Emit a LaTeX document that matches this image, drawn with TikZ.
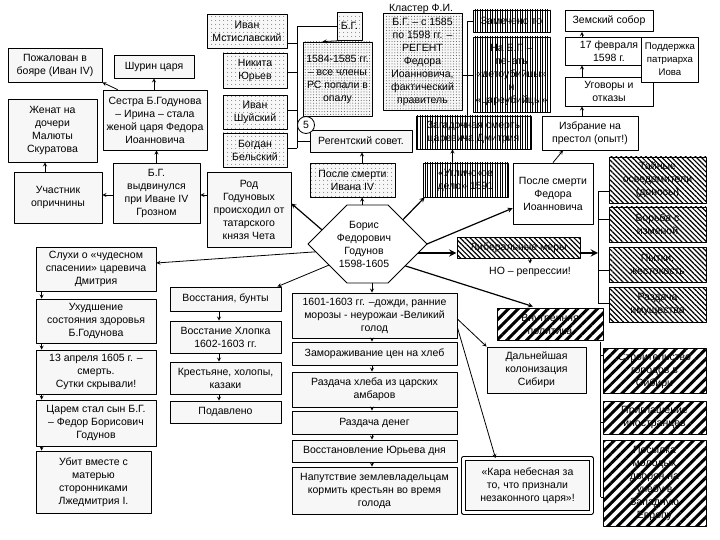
\documentclass[tikz,border=0pt]{standalone}
\usepackage{fontspec}
\setmainfont{Liberation Sans}
\usetikzlibrary{calc,patterns.meta}
\begin{document}
\begin{tikzpicture}[x=1pt,y=-1pt,>=stealth,line width=0.8pt,line join=round,
	font=\fontsize{10.5}{13}\selectfont,
	box/.style={draw,fill=gray!6,align=center,inner sep=1pt},
	sz/.style 2 args={minimum width=#1pt,minimum height=#2pt},
	wbox/.style={box,fill=white},
	dotbox/.style={box,preaction={fill=gray!6},pattern={Dots[distance=4pt,radius=0.5pt]},pattern color=black!70},
	ddotbox/.style={box,preaction={fill=gray!6},pattern={Dots[distance=2.8pt,radius=0.5pt]},pattern color=black!70},
	vbox/.style={box,preaction={fill=white},pattern={Lines[angle=90,distance=2.5pt,line width=1pt]}},
	fhbox/.style={box,preaction={fill=white},pattern={Lines[angle=-45,distance=3.5pt,line width=1.2pt]}},
	thbox/.style={box,preaction={fill=white},pattern={Lines[angle=45,distance=7pt,line width=3pt]}},
	con/.style={->},
	bcon/.style={->,line width=1.2pt}]
	\useasboundingbox (0,0) rectangle (720,540);
	% род и родство
	\node[box,sz={94}{34}] (pozh) at (55,65) {Пожалован в\\бояре (Иван IV)};
	\node[box,sz={80}{23}] (shurin) at (154,66.5) {Шурин царя};
	\node[box,sz={104}{60}] (sestra) at (155,120) {Сестра Б.Годунова\\– Ирина – стала\\женой царя Федора\\Иоанновича};
	\node[box,sz={89}{63}] (zhenat) at (52.5,130.5) {Женат на\\дочери\\Малюты\\Скуратова};
	\node[box,sz={88}{51}] (uchast) at (58,197.5) {Участник\\опричнины};
	\node[box,sz={87}{60}] (vydv) at (156.5,193) {Б.Г.\\выдвинулся\\при Иване IV\\Грозном};
	\node[box,sz={84}{75}] (rod) at (249,209.5) {Род\\Годуновых\\происходил от\\татарского\\князя Чета};
	\draw[con] ([xshift=15pt]sestra.north west) -- (pozh.south east);
	\draw[con] (shurin.south |- sestra.north) -- (shurin.south);
	\draw[con] (vydv.north) -- (vydv.north |- sestra.south);
	\draw[con] (vydv.west |- 0,195) -- (uchast.east |- 0,195);
	\draw[con] ([xshift=-13pt]uchast.north) -- ([xshift=-13pt]uchast.north |- zhenat.south);
	\draw[con] (rod.west |- 0,195) -- (vydv.east |- 0,195);
	% регентский совет
	\node[dotbox,sz={80}{34}] (mstisl) at (247,31) {Иван\\Мстиславский};
	\node[dotbox,sz={64}{35}] (yurev) at (255,70.5) {Никита\\Юрьев};
	\node[dotbox,sz={64}{34}] (shuisk) at (255,112) {Иван\\Шуйский};
	\node[dotbox,sz={64}{34}] (belsk) at (255,150) {Богдан\\Бельский};
	\node[dotbox,sz={25}{28}] (bg) at (349.5,26) {Б.Г.};
	\node[ddotbox,sz={69}{74}] (opala) at (337.5,79) {1584-1585 гг.\\– все члены\\РС попали в\\опалу};
	\node[box,sz={102}{22}] (regent) at (361,141) {Регентский совет.};
	\node[dotbox,sz={85}{34}] (posleI) at (352.5,180) {После смерти\\Ивана IV};
	\coordinate (sovT) at (297,26);
	\draw (bg.west) -- (sovT) -- (sovT |- 0,148);
	\foreach \n/\y in {mstisl/43,yurev/72,shuisk/110,belsk/148}
		\draw (sovT |- 0,\y) -- (\n.east |- 0,\y);
	\draw (sovT |- regent.west) -- (regent.west);
	\draw[con] ([xshift=-4pt]bg.south) -- ([xshift=-15pt]opala.north);
	\draw[con] ([xshift=9.5pt]posleI.north) -- ([xshift=9.5pt]posleI.north |- regent.south);
	\node[draw,circle,fill=white,minimum size=17pt,inner sep=0pt] (five) at (306,125) {5};
	% кластер Ф.И.
	\node (klast) at (421,9) {Кластер Ф.И.};
	\node[ddotbox,sz={79}{97}] (regbg) at (422.5,61.5) {Б.Г. – с 1585\\по 1598 гг. –\\РЕГЕНТ\\Федора\\Иоанновича,\\фактический\\правитель};
	\node[vbox,sz={77}{22}] (zapom) at (511.5,21) {Замечено то};
	\node[vbox,sz={77}{75}] (pechat) at (511.5,74.5) {На Б.Г. –\\печать\\«детоубийцы»\\и\\«цареубийцы»};
	\node[vbox,sz={115}{33}] (zagad) at (473.5,132.5) {Загадочная смерть\\царевича Дмитрия};
	\node[vbox,sz={85}{34}] (uglich) at (465.5,180) {«Угличское\\дело» 1591};
	\coordinate (klT) at (467,21);
	\draw (zapom.west) -- (klT) -- (klT |- zagad.north);
	\draw (regbg.east |- 0,75) -- (pechat.west |- 0,75);
	\draw[con] ([xshift=-13pt]uglich.north) -- ([xshift=-13pt]uglich.north |- zagad.south);
	% избрание
	\node[box,fill=white,sz={80}{61}] (posleF) at (553,193.5) {После смерти\\Федора\\Иоанновича};
	\node[wbox,sz={88}{21}] (zemsk) at (609,21) {Земский собор};
	\node[wbox,sz={88}{28}] (fevr) at (609,51) {17 февраля\\1598 г.};
	\node[wbox,sz={88}{29}] (ugov) at (609,91.5) {Уговоры и\\отказы};
	\node[wbox,sz={96}{34}] (izbr) at (590,133) {Избрание на\\престол (опыт!)};
	\node[wbox,sz={57}{45},font=\fontsize{9.6}{13}\selectfont] (iov) at (670,59.5) {Поддержка\\патриарха\\Иова};
	\coordinate (ax) at (582,0);
	\draw[con] (posleF.north) -- ([xshift=-27pt]izbr.south);
	\draw[con] (ax |- izbr.north) -- (ax |- ugov.south);
	\draw[con] (ax |- ugov.north) -- (ax |- fevr.south);
	\draw[con] (ax |- fevr.north) -- (ax |- zemsk.south);
	% Борис
	\coordinate (hw) at (308,244); \coordinate (hnw) at (347,205);
	\coordinate (hne) at (388,205); \coordinate (he) at (427,244);
	\coordinate (hse) at (388,283); \coordinate (hsw) at (347,283);
	\draw[fill=white] (hw) -- (hnw) -- (hne) -- (he) -- (hse) -- (hsw) -- cycle;
	\node[align=center] (boris) at (364,244) {Борис\\Федорович\\Годунов\\1598-1605};
	\coordinate (bRod) at ($(hw)!0.36!(hnw)$);
	\coordinate (bSl) at ($(hw)!0.2!(hsw)$);
	\coordinate (bVo) at ($(hw)!0.54!(hsw)$);
	\coordinate (bIv) at ($(hnw)!0.37!(hne)$);
	\coordinate (bUg) at ($(he)!0.62!(hne)$);
	\coordinate (bLib) at ($(he)!0.23!(hse)$);
	\coordinate (bVn) at ($(he)!0.56!(hse)$);
	\coordinate (bGo) at ($(hsw)!0.61!(hse)$);
	% голод
	\node[box,sz={165}{45}] (golod) at (374.5,315.5) {1601-1603 гг. –дожди, ранние\\морозы - неурожаи -Великий\\голод};
	\node[box,sz={165}{23}] (zamor) at (374.5,353.5) {Замораживание цен на хлеб};
	\node[box,sz={165}{35}] (razhleb) at (374.5,389.5) {Раздача хлеба из царских\\амбаров};
	\node[box,sz={165}{23}] (razden) at (374.5,422.5) {Раздача денег};
	\node[box,sz={165}{22}] (yur) at (374.5,451) {Восстановление Юрьева дня};
	\node[box,sz={165}{47}] (naput) at (374.5,490.5) {Напутствие землевладельцам\\кормить крестьян во время\\голода};
	\foreach \a/\b in {golod/zamor,zamor/razhleb,razhleb/razden,razden/yur,yur/naput}
		\draw[con] ([xshift=-2.5pt]\a.south) -- ([xshift=-2.5pt]\b.north);
	\node[box,sz={99}{46}] (kolon) at (536.5,370) {Дальнейшая\\колонизация\\Сибири};
	\node[box,double,double distance=2.5pt,sz={128}{54}] (kara) at (527.5,485.5) {«Кара небесная за\\то, что признали\\незаконного царя»!};
	\draw[con] ([yshift=-3.5pt]golod.east) -- (kolon.north west);
	\draw[con] ([yshift=-12pt]golod.east) -- ([xshift=-32pt]kara.north);
	% политика
	\node[fhbox,sz={123}{21}] (liber) at (518.5,247.5) {Либеральные меры};
	\node (no) at (530,272) {НО – репрессии!};
	\node[thbox,sz={106}{32}] (vnutr) at (550,324) {Внутренняя\\политика};
	\node[fhbox,sz={97}{46}] (tain) at (657.5,180) {Тайные\\осведомители\\(доносы)};
	\node[fhbox,sz={97}{35}] (borba) at (657.5,224.5) {Борьба с\\изменой};
	\node[fhbox,sz={97}{35}] (pytki) at (657.5,264.5) {Пытки,\\жестокость};
	\node[fhbox,sz={97}{35}] (razdim) at (657.5,304.5) {Раздача\\имущества};
	\node[thbox,sz={103}{45}] (stroit) at (654.5,370.5) {Строительство\\городов в\\Сибири};
	\node[thbox,sz={103}{33}] (prigl) at (654.5,417.5) {Приглашение\\иностранцев};
	\node[thbox,sz={103}{86}] (otpr) at (654.5,483) {Посылка\\молодых\\дворян на\\учебу в\\Западную\\Европу};
	\coordinate (rbT) at (598,191);
	\draw (rbT) -- (rbT |- 0,303);
	\foreach \n/\y in {tain/191,borba/219,pytki/270,razdim/303}
		\draw (rbT |- 0,\y) -- (\n.west |- 0,\y);
	\draw[->,line width=2.2pt] (bLib -| liber.east) -- (bLib -| rbT);
	\draw[con] (no.north |- liber.south) -- (no.north);
	\coordinate (vbT) at ([xshift=-4pt]vnutr.south east);
	\draw (vbT) -- (vbT |- 0,497);
	\foreach \n/\y in {stroit/355,prigl/422,otpr/497}
		\draw (vbT |- 0,\y) -- (\n.west |- 0,\y);
	% смута
	\node[box,sz={120}{44}] (sluhi) at (96,269) {Слухи о «чудесном\\спасении» царевича\\Дмитрия};
	\node[box,sz={120}{44}] (uhud) at (96,321) {Ухудшение\\состояния здоровья\\Б.Годунова};
	\node[box,sz={120}{44}] (smert) at (96,372) {13 апреля 1605 г. –\\смерть.\\Сутки скрывали!};
	\node[box,sz={120}{46}] (carem) at (96,423) {Царем стал сын Б.Г.\\– Федор Борисович\\Годунов};
	\node[box,sz={115}{62}] (ubit) at (93.5,482) {Убит вместе с\\матерью\\сторонниками\\Лжедмитрия I.};
	\foreach \a/\b in {sluhi/uhud,uhud/smert,smert/carem,carem/ubit}
		\draw[con] ([xshift=6pt]\a.south west) -- ([xshift=6pt]\a.south west |- \b.north);
	\node[box,sz={111}{24}] (vosst) at (225.5,299) {Восстания, бунты};
	\node[box,sz={111}{32}] (hlop) at (225.5,337) {Восстание Хлопка\\1602-1603 гг.};
	\node[box,sz={111}{32}] (krest) at (225.5,378) {Крестьяне, холопы,\\казаки};
	\node[box,sz={111}{22}] (podavl) at (225.5,412) {Подавлено};
	\foreach \a/\b in {vosst/hlop,hlop/krest,krest/podavl}
		\draw[con] ([xshift=-6.5pt]\a.south) -- ([xshift=-6.5pt]\b.north);
	% связи от Бориса
	\draw[bcon] (bRod) -- ([yshift=6pt]rod.east);
	\draw[con] (bSl) -- ([yshift=6pt]sluhi.east);
	\draw[con] (bVo) -- ([xshift=-4pt]vosst.north east);
	\draw[con] (bIv) -- (bIv |- posleI.south);
	\draw[bcon] (bUg) -- ([xshift=2pt]uglich.south west);
	\draw[bcon] (he) -- (posleF.200);
	\draw[->,line width=2.2pt] (bLib) -- (bLib -| liber.west);
	\draw[bcon] (bVn) -- ([xshift=-17pt]vnutr.north);
	\draw[con] (bGo) -- (bGo |- golod.north);
\end{tikzpicture}
\end{document}
